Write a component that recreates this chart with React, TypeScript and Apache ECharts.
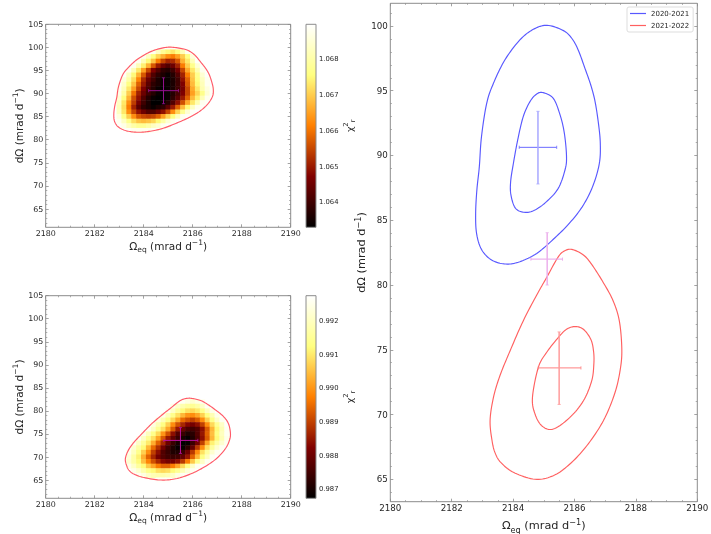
import React, { useEffect, useRef } from "react";
import * as echarts from "echarts";

const xTicks = [2180, 2182, 2184, 2186, 2188, 2190];
const yTicks = [65, 70, 75, 80, 85, 90, 95, 100, 105];
const yTicksRight = [65, 70, 75, 80, 85, 90, 95, 100];
const yMinorTicks = [62, 63, 64, 66, 67, 68, 69, 71, 72, 73, 74, 76, 77, 78, 79, 81, 82, 83, 84, 86, 87, 88, 89, 91, 92, 93, 94, 96, 97, 98, 99, 101, 102, 103, 104];
const cbTop = [1.064, 1.065, 1.066, 1.067, 1.068];
const cbBottom = [0.987, 0.988, 0.989, 0.99, 0.991, 0.992];

const blueOuter = [[2185.11, 100.05], [2185.64, 99.64], [2185.91, 99.05], [2186.12, 98.15], [2186.34, 96.73], [2186.53, 95.44], [2186.67, 94.16], [2186.78, 92.48], [2186.84, 90.94], [2186.81, 89.4], [2186.61, 87.72], [2186.29, 86.18], [2185.85, 84.81], [2185.31, 83.53], [2184.77, 82.44], [2184.22, 81.8], [2183.76, 81.62], [2183.3, 81.93], [2182.97, 82.75], [2182.81, 83.99], [2182.78, 85.53], [2182.82, 87.34], [2182.9, 89.14], [2182.97, 91.45], [2183.14, 94.03], [2183.36, 95.57], [2183.73, 97.37], [2184.22, 98.92], [2184.66, 99.74]];
const blueInner = [[2184.98, 94.85], [2185.31, 94.41], [2185.53, 93.13], [2185.67, 91.71], [2185.74, 89.91], [2185.69, 88.88], [2185.47, 87.46], [2185.09, 86.44], [2184.71, 85.79], [2184.39, 85.61], [2184.08, 85.92], [2183.93, 86.95], [2183.92, 87.98], [2184.01, 89.4], [2184.15, 91.2], [2184.33, 93.0], [2184.55, 94.16], [2184.77, 94.75]];
const redOuter = [[2185.91, 82.75], [2185.65, 82.6], [2185.45, 82.1], [2185.09, 80.57], [2184.77, 79.23], [2184.33, 77.23], [2183.9, 74.91], [2183.57, 72.99], [2183.36, 71.32], [2183.25, 69.52], [2183.32, 67.9], [2183.42, 67.0], [2183.6, 66.3], [2184.01, 65.54], [2184.71, 65.0], [2185.31, 65.28], [2185.85, 66.18], [2186.4, 67.59], [2186.94, 69.52], [2187.32, 71.7], [2187.5, 73.63], [2187.54, 75.17], [2187.46, 77.23], [2187.26, 78.77], [2186.94, 80.18], [2186.56, 81.59], [2186.29, 82.32]];
const redInner = [[2186.02, 76.79], [2186.29, 76.58], [2186.53, 75.81], [2186.62, 74.9], [2186.63, 73.89], [2186.56, 72.6], [2186.29, 71.06], [2185.85, 69.78], [2185.31, 68.88], [2184.95, 69.1], [2184.72, 70.0], [2184.63, 71.3], [2184.82, 73.63], [2185.09, 74.79], [2185.47, 75.94], [2185.74, 76.58]];

// [x, y, xLow, xHigh, yLow, yHigh]
const crossBlue = [2184.81, 90.63, 2184.2, 2185.42, 87.8, 93.41];
const crossRed = [2185.5, 73.6, 2184.82, 2186.21, 70.78, 76.38];
const crossPink = [2185.11, 82.0, 2184.58, 2185.61, 80.0, 84.04];

// Each row: [y, first x, chi2 cells with step 0.2 in x]; values are (chi2 - 1) * 1e4
const chiTopRows: number[][] = [
  [100, 2185, 689, 689],
  [99, 2184.4, 688, 683, 678, 675, 673, 676, 682, 688],
  [98, 2184, 688, 683, 676, 671, 667, 663, 661, 665, 670, 676, 686],
  [97, 2183.8, 688, 682, 675, 669, 661, 655, 651, 652, 657, 667, 673, 682, 689],
  [96, 2183.6, 688, 682, 674, 667, 657, 650, 645, 642, 645, 651, 661, 670, 677, 685, 689],
  [95, 2183.4, 688, 682, 673, 665, 655, 647, 642, 638, 637, 640, 646, 655, 666, 673, 681, 688],
  [94, 2183.2, 689, 683, 675, 667, 657, 649, 642, 638, 636, 634, 637, 642, 651, 661, 670, 677, 685, 689],
  [93, 2183.2, 686, 680, 672, 662, 652, 645, 640, 636, 634, 634, 636, 640, 649, 658, 669, 676, 683, 688],
  [92, 2183, 689, 684, 676, 669, 658, 650, 643, 638, 636, 634, 634, 636, 640, 647, 657, 668, 675, 682, 688],
  [91, 2183, 688, 682, 673, 665, 655, 647, 641, 637, 634, 633, 634, 636, 640, 646, 655, 666, 673, 681, 686, 689],
  [90, 2183, 687, 680, 670, 660, 651, 645, 640, 637, 634, 633, 634, 637, 641, 647, 655, 665, 671, 677, 685, 689],
  [89, 2183, 685, 676, 667, 656, 649, 642, 637, 634, 633, 633, 634, 638, 643, 650, 658, 668, 674, 682, 688],
  [88, 2183, 683, 673, 663, 654, 646, 640, 636, 633, 633, 634, 637, 642, 649, 656, 666, 673, 681, 688, 689],
  [87, 2183, 682, 672, 661, 651, 643, 638, 636, 634, 636, 638, 643, 650, 658, 668, 675, 683, 688, 689],
  [86, 2183, 683, 673, 663, 655, 649, 645, 642, 642, 645, 649, 655, 663, 671, 678, 685, 689, 690],
  [85, 2183, 686, 677, 670, 663, 657, 655, 654, 655, 658, 665, 671, 676, 683, 688, 689],
  [84, 2183, 688, 683, 677, 672, 669, 668, 669, 671, 675, 680, 685, 688, 690],
  [83, 2183, 689, 687, 683, 680, 678, 678, 680, 683, 685, 688, 689, 690],
  [82, 2183.4, 689, 688, 688, 688, 688, 689, 689],
];
// values are (chi2 - 0.98) * 1e4
const chiBottomRows: number[][] = [
  [82, 2185.6, 126, 124, 122, 124, 126],
  [81, 2185.2, 125, 121, 118, 116, 115, 117, 121, 126],
  [80, 2185, 126, 121, 116, 112, 109, 108, 110, 114, 120, 125],
  [79, 2184.8, 125, 120, 114, 109, 104, 100, 99, 102, 107, 113, 119, 125],
  [78, 2184.6, 124, 119, 114, 108, 102, 95, 92, 90, 93, 99, 107, 114, 121, 126],
  [77, 2184.4, 124, 119, 113, 107, 99, 92, 87, 83, 81, 84, 90, 99, 108, 115, 121, 127],
  [76, 2184.2, 126, 121, 115, 109, 102, 93, 85, 80, 76, 75, 77, 84, 93, 104, 112, 119, 126],
  [75, 2184, 125, 120, 114, 108, 100, 92, 84, 77, 74, 71, 72, 77, 85, 94, 105, 113, 120, 126],
  [74, 2183.8, 126, 121, 115, 109, 102, 93, 85, 79, 74, 70, 68, 71, 76, 84, 93, 104, 112, 119, 125],
  [73, 2183.6, 126, 121, 116, 110, 103, 94, 87, 80, 74, 70, 67, 68, 74, 81, 90, 102, 111, 117, 122, 126],
  [72, 2183.6, 122, 117, 112, 104, 95, 88, 81, 75, 71, 68, 68, 72, 79, 89, 99, 109, 116, 122, 126],
  [71, 2183.4, 125, 120, 114, 107, 99, 90, 84, 77, 74, 71, 71, 74, 80, 89, 99, 109, 116, 122, 126],
  [70, 2183.4, 123, 117, 111, 103, 94, 87, 81, 77, 75, 74, 75, 79, 85, 94, 104, 113, 120, 126],
  [69, 2183.4, 122, 117, 112, 105, 98, 92, 87, 83, 81, 81, 84, 89, 97, 106, 114, 121, 126],
  [68, 2183.4, 125, 121, 116, 112, 106, 102, 97, 94, 94, 97, 102, 108, 114, 121, 126],
  [67, 2183.6, 125, 122, 118, 114, 112, 109, 108, 109, 112, 115, 119, 123, 126],
  [66, 2183.8, 126, 124, 121, 119, 118, 118, 119, 121, 124, 126],
  [65, 2184.6, 127, 127, 127],
];
const rangeTop = [1.0633, 1.06898];
const rangeBottom = [0.98673, 0.99276];

const afmhot = (t: number) => {
  const c = (v: number) => Math.round(255 * Math.max(0, Math.min(1, v)));
  return `rgb(${c(2 * t)},${c(2 * t - 0.5)},${c(2 * t - 1)})`;
};
const expand = (rows: number[][], base: number) => {
  const out: number[][] = [];
  rows.forEach((r) => {
    for (let i = 2; i < r.length; i++) out.push([r[1] + (i - 2) * 0.2, r[0], base + r[i] * 1e-4]);
  });
  return out;
};

// pixel path of a closed Catmull-Rom curve through the given pixel points
const closedCurve = (p: number[][]) => {
  const n = p.length;
  const out: number[][] = [];
  for (let i = 0; i < n; i++) {
    const a = p[(i - 1 + n) % n], b = p[i], c = p[(i + 1) % n], d = p[(i + 2) % n];
    for (let k = 0; k < 10; k++) {
      const t = k / 10, t2 = t * t, t3 = t2 * t;
      out.push([0, 1].map((j) => 0.5 * (2 * b[j] + (c[j] - a[j]) * t + (2 * a[j] - 5 * b[j] + 4 * c[j] - d[j]) * t2 + (3 * b[j] - a[j] - 3 * c[j] + d[j]) * t3)));
    }
  }
  out.push(out[0]);
  return out;
};

const TXT = "#262626";
const SPINE = "#8c8c8c";
const FF = "DejaVu Sans";

const richLabel = (size: number) => ({
  n: { fontSize: size, color: TXT, fontFamily: FF, lineHeight: size + 5, verticalAlign: "middle" },
  sub: { fontSize: size * 0.72, color: TXT, fontFamily: FF, lineHeight: size + 5, verticalAlign: "bottom" },
  sup: { fontSize: size * 0.72, color: TXT, fontFamily: FF, lineHeight: size + 5, verticalAlign: "top" },
});

function App() {
  const ref = useRef<HTMLDivElement>(null);
  useEffect(() => {
    document.body.style.margin = "0";
    const chart = echarts.init(ref.current!, undefined, { renderer: "svg" });

    const grids: any[] = [];
    const xAxes: any[] = [];
    const yAxes: any[] = [];
    const series: any[] = [];

    const addPlot = (rect: number[], yMin: number, yMax: number, majors: number[], fs: number, nameFs: number, gaps: number[]) => {
      const g = grids.length;
      grids.push({ left: rect[0], top: rect[1], width: rect[2], height: rect[3], show: true, borderColor: SPINE, borderWidth: 1, backgroundColor: "transparent", z: 5, outerBoundsMode: "none" });
      const xBase = {
        type: "value", gridIndex: g, min: 2180, max: 2190, interval: 2,
        axisLine: { show: false }, splitLine: { show: false },
        axisTick: { inside: true, length: 3, lineStyle: { color: SPINE, width: 0.8 } },
        minorTick: { show: true, splitNumber: 4, length: 1.6, lineStyle: { color: SPINE, width: 0.7 } },
      };
      const x0 = xAxes.length;
      xAxes.push({
        ...xBase, position: "bottom",
        axisLabel: { fontSize: fs, color: TXT, fontFamily: FF, margin: 2, formatter: (v: number) => (xTicks.includes(v) ? String(v) : "") },
        name: "{n|Ω}{sub|eq}{n| (mrad d}{sup|−1}{n|)}", nameLocation: "middle", nameGap: gaps[0],
        nameTextStyle: { rich: richLabel(nameFs) },
      });
      xAxes.push({ ...xBase, position: "top", axisLabel: { show: false } });
      const yBase = { type: "value", gridIndex: g, min: yMin, max: yMax, axisLine: { show: false }, splitLine: { show: false } };
      const y0 = yAxes.length;
      yAxes.push({
        ...yBase, position: "left",
        axisTick: { inside: true, length: 3, customValues: majors, lineStyle: { color: SPINE, width: 0.8 } },
        axisLabel: { customValues: majors, fontSize: fs, color: TXT, fontFamily: FF, margin: 2.4 },
        name: "{n|dΩ (mrad d}{sup|−1}{n|)}", nameLocation: "middle", nameGap: gaps[1],
        nameTextStyle: { rich: richLabel(nameFs) },
      });
      yAxes.push({ ...yBase, position: "right", axisLabel: { show: false }, axisTick: { inside: true, length: 3, customValues: majors, lineStyle: { color: SPINE, width: 0.8 } } });
      ["left", "right"].forEach((position) =>
        yAxes.push({
          ...yBase, position, axisLabel: { show: false },
          axisTick: { inside: true, length: 1.6, customValues: yMinorTicks.filter((v) => v > yMin && v < yMax), lineStyle: { color: SPINE, width: 0.7 } },
        })
      );
      return { x: x0, y: y0 };
    };

    const addColorbar = (rect: number[], range: number[], ticks: number[]) => {
      const g = grids.length;
      grids.push({ left: rect[0], top: rect[1], width: rect[2], height: rect[3], show: true, borderColor: SPINE, borderWidth: 1, backgroundColor: "transparent", z: 5, outerBoundsMode: "none" });
      const xi = xAxes.length;
      xAxes.push({ type: "value", gridIndex: g, min: 0, max: 1, show: false });
      const yi = yAxes.length;
      yAxes.push({
        type: "value", gridIndex: g, min: range[0], max: range[1], position: "right",
        axisLine: { show: false }, splitLine: { show: false },
        axisTick: { inside: false, length: 2.5, customValues: ticks, lineStyle: { color: TXT, width: 0.7 } },
        axisLabel: { customValues: ticks, fontSize: 6.8, color: TXT, fontFamily: FF, margin: 3, formatter: (v: number) => v.toFixed(3) },
        name: "{n|χ}{sup|2}{sub|r}", nameLocation: "middle", nameGap: 24, nameRotate: 90,
        nameTextStyle: { rich: richLabel(9.5) },
      });
      series.push({
        type: "custom", xAxisIndex: xi, yAxisIndex: yi, silent: true, clip: false,
        data: [[0, range[0], 1, range[1]]],
        renderItem: (_: any, api: any) => {
          const a = api.coord([api.value(0), api.value(3)]);
          const b = api.coord([api.value(2), api.value(1)]);
          const steps = [0, 0.25, 0.5, 0.75, 1];
          return {
            type: "rect",
            shape: { x: a[0], y: a[1], width: b[0] - a[0], height: b[1] - a[1] },
            style: {
              fill: new echarts.graphic.LinearGradient(0, 1, 0, 0, steps.map((s) => ({ offset: s, color: afmhot(s) }))),
            },
          };
        },
      });
    };

    const addHeat = (axes: { x: number; y: number }, cells: number[][], range: number[]) => {
      series.push({
        type: "custom", xAxisIndex: axes.x, yAxisIndex: axes.y, silent: true, z: 1,
        data: cells,
        renderItem: (_: any, api: any) => {
          const x = api.value(0), y = api.value(1);
          const a = api.coord([x - 0.1, y + 0.5]);
          const b = api.coord([x + 0.1, y - 0.5]);
          const col = afmhot((api.value(2) - range[0]) / (range[1] - range[0]));
          return {
            type: "rect",
            shape: { x: a[0] - 0.25, y: a[1] - 0.25, width: b[0] - a[0] + 0.5, height: b[1] - a[1] + 0.5 },
            style: { fill: col },
          };
        },
      });
    };

    const addLine = (axes: { x: number; y: number }, name: string, pts: number[][], color: string) => {
      series.push({
        type: "custom", name, xAxisIndex: axes.x, yAxisIndex: axes.y, data: pts, silent: true, z: 3,
        itemStyle: { color },
        renderItem: (params: any, api: any) => {
          if (params.dataIndex !== 0) return null;
          const points = closedCurve(pts.map((p) => api.coord(p)));
          return { type: "polyline", shape: { points }, style: { stroke: color, fill: "none", lineWidth: 1.15 } };
        },
      });
    };

    const addCross = (axes: { x: number; y: number }, c: number[], hCol: string, vCol: string, vWidth: number) => {
      series.push({
        type: "custom", xAxisIndex: axes.x, yAxisIndex: axes.y, silent: true, z: 4,
        data: [c],
        renderItem: (_: any, api: any) => {
          const x = api.value(0), y = api.value(1);
          const L = api.coord([api.value(2), y]);
          const R = api.coord([api.value(3), y]);
          const B = api.coord([x, api.value(4)]);
          const T = api.coord([x, api.value(5)]);
          const seg = (p: number[], q: number[], stroke: string, lineWidth: number) => ({
            type: "line", shape: { x1: p[0], y1: p[1], x2: q[0], y2: q[1] }, style: { stroke, lineWidth },
          });
          const cap = 1.6;
          return {
            type: "group",
            children: [
              seg(L, R, hCol, 1),
              seg(B, T, vCol, vWidth),
              seg([L[0], L[1] - cap], [L[0], L[1] + cap], hCol, 0.8),
              seg([R[0], R[1] - cap], [R[0], R[1] + cap], hCol, 0.8),
              seg([B[0] - cap, B[1]], [B[0] + cap, B[1]], vCol, 0.8),
              seg([T[0] - cap, T[1]], [T[0] + cap, T[1]], vCol, 0.8),
            ],
          };
        },
      });
    };

    const top = addPlot([45.7, 24.3, 245, 203], 61.04, 105, yTicks, 7.9, 10.5, [11, 18]);
    addHeat(top, expand(chiTopRows, 1), rangeTop);
    addLine(top, "top contour", blueOuter, "#ff5a68");
    addCross(top, crossBlue, "#96108e", "#96108e", 1);
    addColorbar([306, 24.3, 10, 203], rangeTop, cbTop);

    const bottom = addPlot([45.7, 295.7, 245, 202.6], 61.04, 105, yTicks, 7.9, 10.5, [11, 18]);
    addHeat(bottom, expand(chiBottomRows, 0.98), rangeBottom);
    addLine(bottom, "bottom contour", redOuter, "#ff5a68");
    addCross(bottom, crossRed, "#b8109e", "#b8109e", 1);
    addColorbar([306, 295.7, 10, 202.6], rangeBottom, cbBottom);

    const right = addPlot([390.3, 3.3, 307, 498.4], 63.27, 101.75, yTicksRight, 8.7, 11.3, [8, 18]);
    addLine(right, "2020-2021", blueOuter, "#5858ff");
    addLine(right, "2020-2021", blueInner, "#5858ff");
    addLine(right, "2021-2022", redOuter, "#ff6060");
    addLine(right, "2021-2022", redInner, "#ff6060");
    addCross(right, crossBlue, "#6a6aff", "#a8a8ff", 1.5);
    addCross(right, crossRed, "#ff8080", "#ff9c9c", 1.5);
    addCross(right, crossPink, "#e8a0e8", "#ecb0ec", 1.5);

    chart.setOption({
      animation: false,
      backgroundColor: "#fff",
      textStyle: { fontFamily: FF },
      grid: grids,
      xAxis: xAxes,
      yAxis: yAxes,
      series,
      legend: {
        data: ["2020-2021", "2021-2022"], orient: "vertical", left: 627, top: 7,
        icon: "rect", itemWidth: 16, itemHeight: 1.2, itemGap: 5, padding: [3, 4, 3, 3],
        borderColor: "#dddddd", borderWidth: 1, borderRadius: 2, backgroundColor: "#fff",
        textStyle: { fontSize: 7, color: TXT, fontFamily: FF },
      },
    });
    return () => chart.dispose();
  }, []);
  return <div ref={ref} style={{ position: "absolute", left: 0, top: 0, width: 711, height: 534, filter: "blur(0.3px)" }} />;
}

export default App;
